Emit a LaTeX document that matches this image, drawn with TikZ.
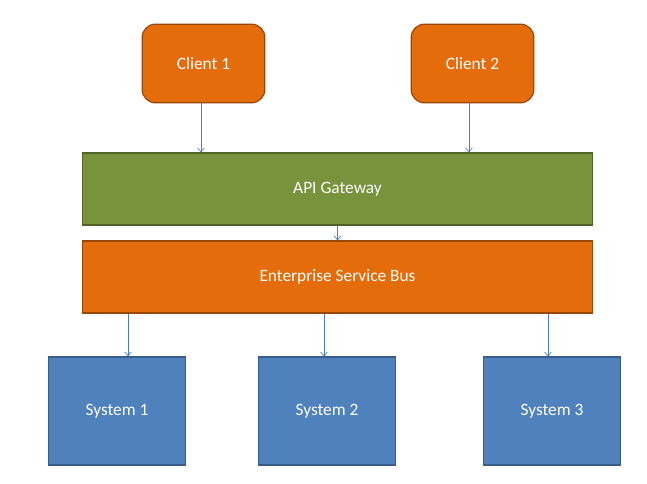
\documentclass[tikz,border=0pt]{standalone}
\usepackage{fontspec}
\setmainfont{Carlito}
\usetikzlibrary{arrows.meta}
\definecolor{boxorange}{RGB}{228,108,10}
\definecolor{lineorange}{RGB}{152,72,6}
\definecolor{boxgreen}{RGB}{119,147,60}
\definecolor{linegreen}{RGB}{79,98,40}
\definecolor{boxblue}{RGB}{79,129,189}
\definecolor{lineblue}{RGB}{56,93,138}
\definecolor{arrowblue}{RGB}{74,126,187}
\begin{document}
\begin{tikzpicture}[x=0.75pt,y=-0.75pt,
  box/.style={draw, line width=0.9pt, text=white, font=\fontsize{13}{15}\selectfont, inner sep=0pt},
  client/.style={box, fill=boxorange, draw=lineorange, rounded corners=10pt, minimum width=92pt, minimum height=59pt},
  bar/.style={box, minimum width=382pt, minimum height=54pt},
  system/.style={box, fill=boxblue, draw=lineblue, minimum width=103pt, minimum height=81pt},
  link/.style={draw=arrowblue, line width=0.5pt, -{Straight Barb[length=3pt,width=5pt]}}]
\useasboundingbox (0,0) rectangle (647,483);

% Clients
\node[client] (client1) at (203.5,63.5) {Client 1};
\node[client] (client2) at (472.5,63.5) {Client 2};

% Gateway and bus
\node[bar, fill=boxgreen, draw=linegreen] (gateway) at (337.5,189) {API Gateway};
\node[bar, fill=boxorange, draw=lineorange] (esb) at (337.5,277) {Enterprise Service Bus};

% Systems
\node[system] (system1) at (117,411) {System 1};
\node[system] (system2) at (327,411) {System 2};
\node[system] (system3) at (552,411) {System 3};

% Connectors
\coordinate (g1) at (gateway.north -| 201,0);
\coordinate (g2) at (gateway.north -| 469,0);
\draw[link] (201,0 |- client1.south) -- (g1);
\draw[link] (469,0 |- client2.south) -- (g2);
\draw[link] (gateway.south) -- (esb.north);
\draw[link] (esb.south -| 128,0) -- (system1.north -| 128,0);
\draw[link] (esb.south -| 324,0) -- (system2.north -| 324,0);
\draw[link] (esb.south -| 548,0) -- (system3.north -| 548,0);
\end{tikzpicture}
\end{document}
